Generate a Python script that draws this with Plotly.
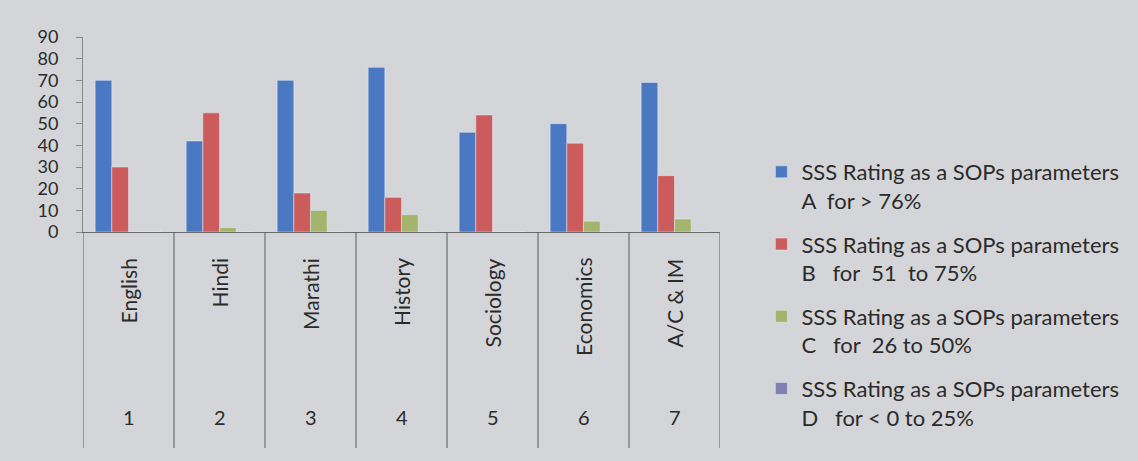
import plotly.graph_objects as go

subjects = ["English", "Hindi", "Marathi", "History", "Sociology", "Economics", "A/C & IM"]
numbers = ["1", "2", "3", "4", "5", "6", "7"]
series_a = [70, 42, 70, 76, 46, 50, 69]
series_b = [30, 55, 18, 16, 54, 41, 26]
series_c = [0, 2, 10, 8, 0, 5, 6]
series_d = [0, 0, 0, 0, 0, 0, 0]
names = [
    "SSS Rating as a SOPs parameters<br>A\u00a0\u00a0for &gt; 76%",
    "SSS Rating as a SOPs parameters<br>B\u00a0\u00a0\u00a0for\u00a0\u00a051\u00a0\u00a0to 75%",
    "SSS Rating as a SOPs parameters<br>C\u00a0\u00a0\u00a0for\u00a0\u00a026 to 50%",
    "SSS Rating as a SOPs parameters<br>D\u00a0\u00a0\u00a0for &lt; 0 to 25%",
]
colors = ["#4a78c3", "#cc5b5b", "#a4b46c", "#8080b4"]
y_ticks = [0, 10, 20, 30, 40, 50, 60, 70, 80, 90]

FONT = "Lato"
TXT = "#2b2b2b"
BG = "#d4d5d8"

fig = go.Figure()
for i, vals in enumerate([series_a, series_b, series_c, series_d]):
    fig.add_trace(go.Bar(x=subjects, y=vals, name=names[i], marker_color=colors[i],
                         legendgroup=f"g{i}"))

fig.update_layout(
    width=1138, height=461,
    paper_bgcolor=BG, plot_bgcolor=BG,
    margin=dict(l=83, r=418, t=37, b=229),
    barmode="group", bargap=0.267, bargroupgap=0,
    font=dict(family=FONT, color=TXT),
    showlegend=True,
    legend=dict(x=1.065, xanchor="left", y=0.415, yanchor="top",
                font=dict(size=22, family=FONT, color=TXT),
                valign="top", tracegroupgap=12, bgcolor="rgba(0,0,0,0)",
                maxheight=440),
)
fig.update_yaxes(range=[0, 90], tickvals=y_ticks, showgrid=False, zeroline=False,
                 showline=True, linecolor="#8a8a8a", linewidth=1,
                 ticks="outside", ticklen=6, tickcolor="#8a8a8a",
                 tickfont=dict(size=18, family=FONT, color=TXT), ticklabelstandoff=14)
fig.update_xaxes(range=[-0.5, 6.5], showticklabels=False, ticks="", showgrid=False,
                 showline=True, linecolor="#6a6a6a", linewidth=1)

# category table lines
for k in range(len(subjects) + 1):
    fig.add_shape(type="line", xref="x", yref="paper", x0=k - 0.5, x1=k - 0.5,
                  y0=0, y1=-1.108, line=dict(color="#5a5a5a", width=1))

for s, n in zip(subjects, numbers):
    fig.add_annotation(x=s, xref="x", y=-0.125, yref="paper", text=s, textangle=-90,
                       showarrow=False, xanchor="center", yanchor="top",
                       font=dict(size=21, family=FONT, color=TXT))
    fig.add_annotation(x=s, xref="x", y=-0.949, yref="paper", text=n,
                       showarrow=False, xanchor="center", yanchor="middle",
                       font=dict(size=20, family=FONT, color=TXT))

fig.write_html("out.html", config={"displayModeBar": False},
               post_script="document.body.style.margin='0';document.body.style.overflow='hidden';")
